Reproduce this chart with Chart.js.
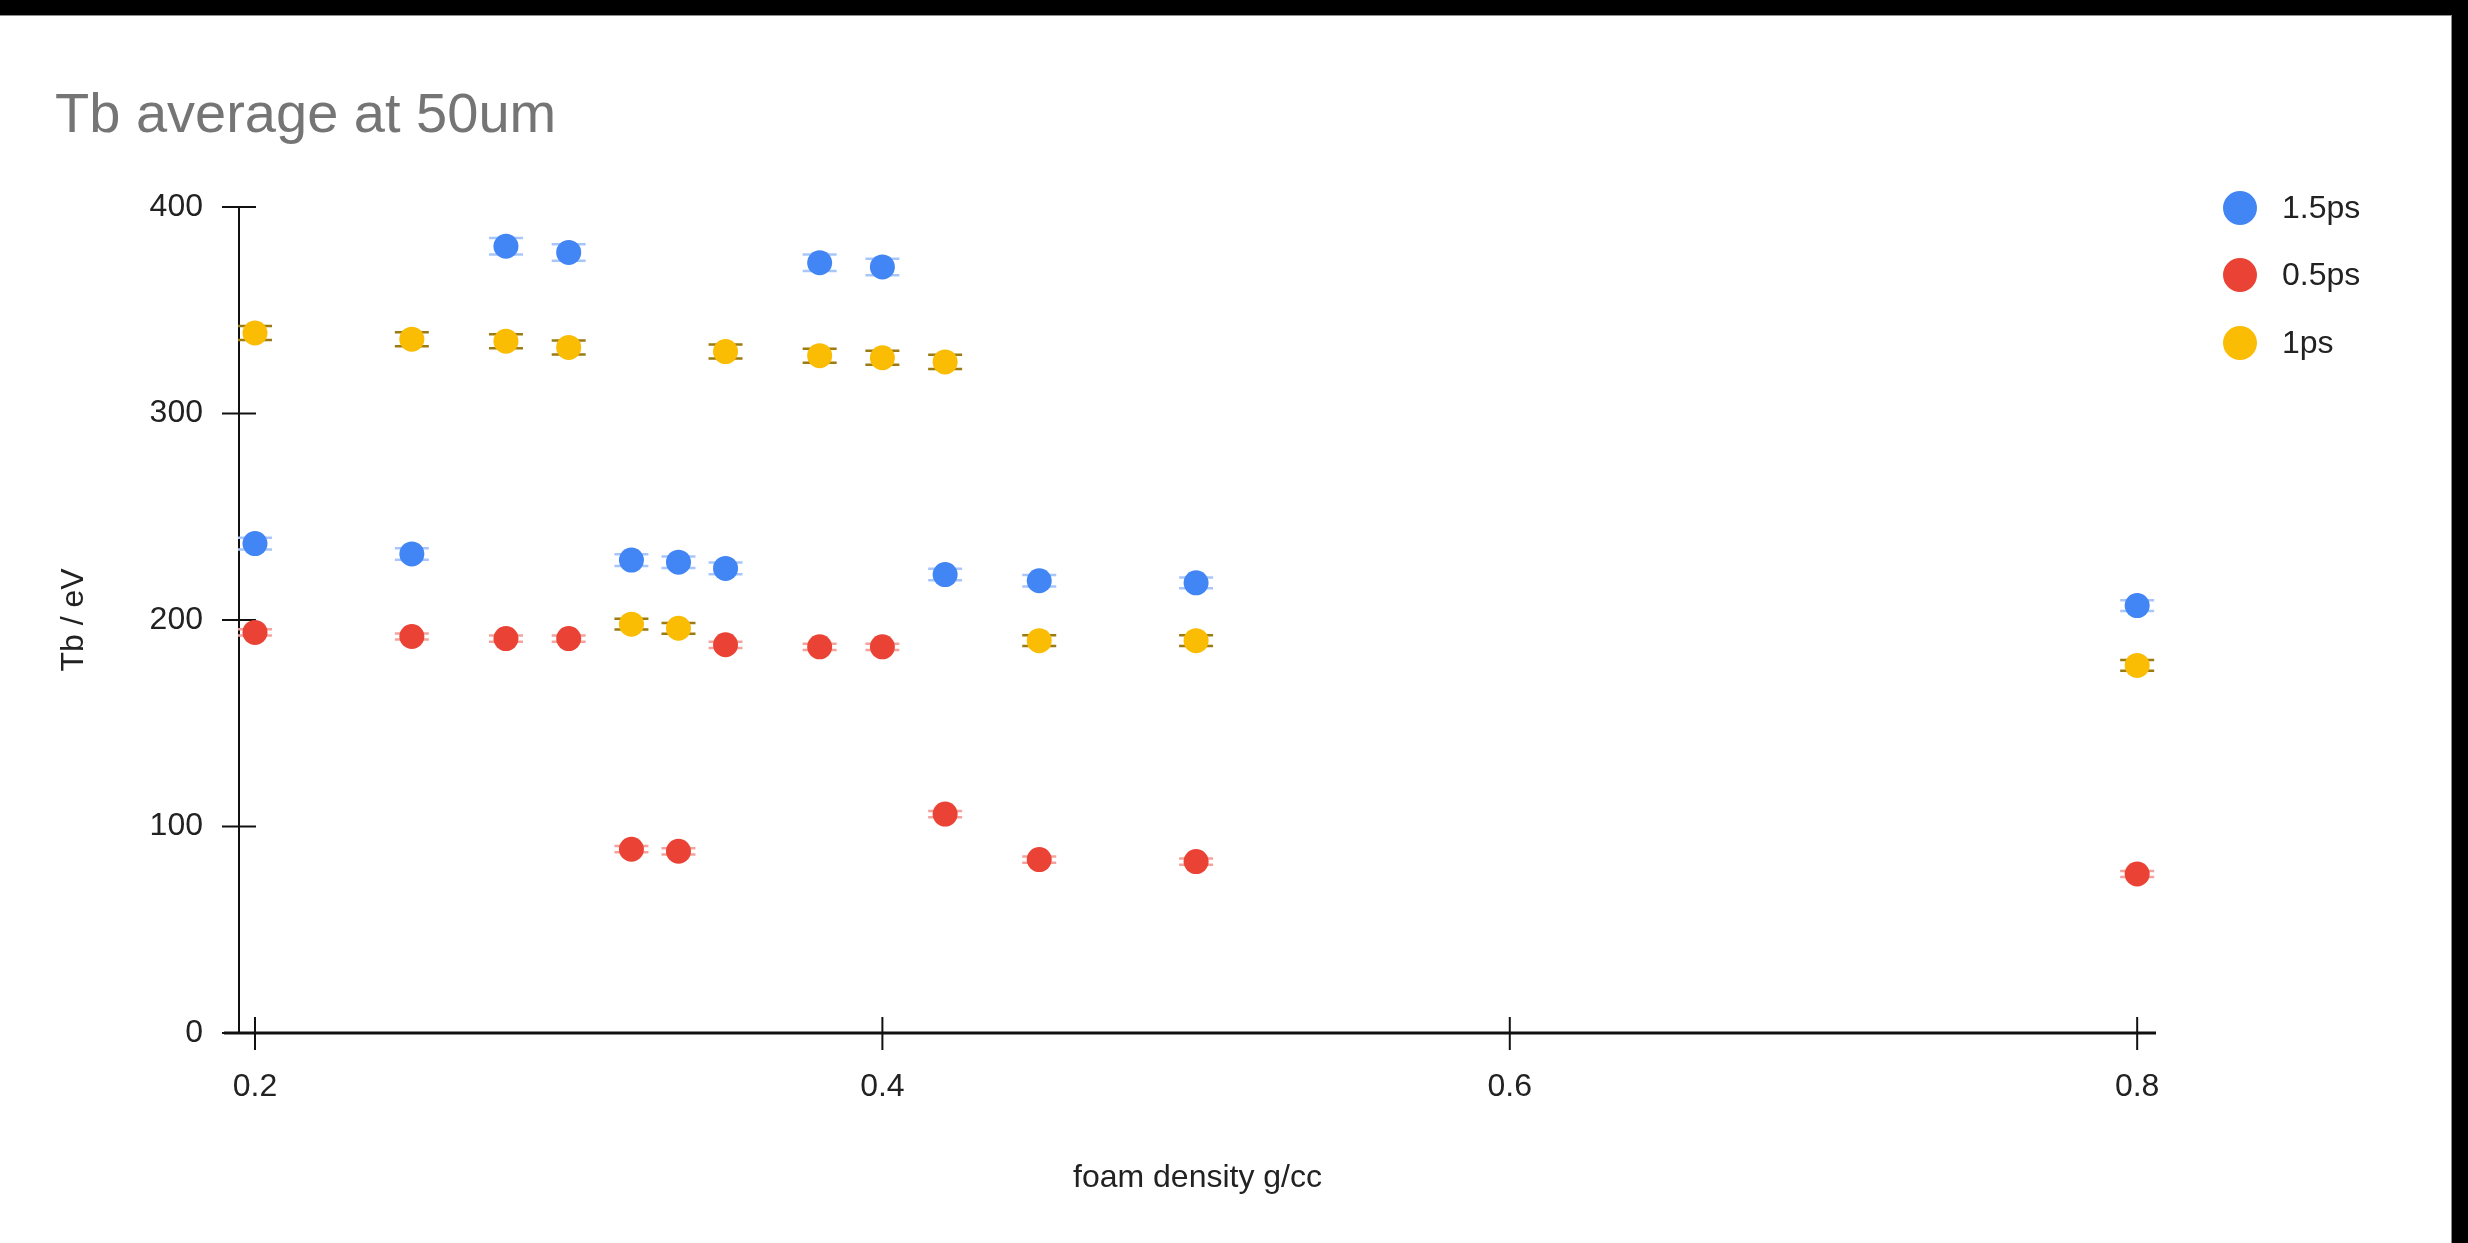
<!DOCTYPE html>
<html>
<head>
<meta charset="utf-8">
<script src="https://cdn.jsdelivr.net/npm/chart.js@4.4.1/dist/chart.umd.min.js"></script>
<style>
html, body { margin: 0; padding: 0; background: #000; width: 2468px; height: 1243px; overflow: hidden; }
#frame { position: absolute; left: 0; top: 15px; width: 2452px; height: 1228px; box-sizing: border-box;
         background: #fff; border-top: 1px solid #8c8c8c; border-right: 1px solid #8c8c8c; }
#chart { display: block; }
</style>
</head>
<body>
<div id="frame"><canvas id="chart" width="2451" height="1227"></canvas></div>
<script>
var FONT = "'Liberation Sans', Arial, sans-serif";

// foam density (g/cc) shared by all three pulse lengths
var densities = [0.2, 0.25, 0.28, 0.30, 0.32, 0.335, 0.35, 0.38, 0.40, 0.42, 0.45, 0.50, 0.80];
var seriesNames = ['1.5ps', '0.5ps', '1ps'];

// Tb (eV) per series
var tb15 = [237, 232, 381, 378, 229, 228, 225, 373, 371, 222, 219, 218, 207];
var tb05 = [194, 192, 191, 191, 89, 88, 188, 187, 187, 106, 84, 83, 77];
var tb1 = [339, 336, 335, 332, 198, 196, 330, 328, 327, 325, 190, 190, 178];

// error bar half-heights (eV)
var err15 = [2.8, 2.8, 4, 4, 2.8, 2.8, 2.8, 4, 4, 2.8, 2.8, 2.6, 2.6];
var err05 = [1.5, 1.5, 1.5, 1.5, 1.5, 1.5, 1.5, 1.5, 1.5, 1.5, 1.5, 1.5, 1.5];
var err1 = [3.4, 3.4, 3.4, 3.4, 2.6, 2.6, 3.4, 3.4, 3.4, 3.4, 2.6, 2.6, 2.6];

var xTicks = [0.2, 0.4, 0.6, 0.8];
var yTicks = [0, 100, 200, 300, 400];

var colors = ['#4285f4', '#ea4335', '#fbbc04'];
var capColors = ['#a9c6fb', '#f4a39c', '#9b7b12'];
var seriesValues = [tb15, tb05, tb1];
var seriesErrors = [err15, err05, err1];

function toPoints(values) {
    return densities.map(function (d, i) { return { x: d, y: values[i] }; });
}

var decor = {
    id: 'decor',
    beforeDatasetsDraw: function (chart) {
        var ctx = chart.ctx;
        var xs = chart.scales.x, ys = chart.scales.y;
        var area = chart.chartArea;
        var y0 = ys.getPixelForValue(0);
        ctx.save();
        ctx.strokeStyle = '#111';
        ctx.lineWidth = 2;
        // y axis + crossing ticks
        ctx.beginPath();
        ctx.moveTo(area.left, ys.getPixelForValue(400));
        ctx.lineTo(area.left, y0);
        yTicks.forEach(function (v) {
            var p = ys.getPixelForValue(v);
            ctx.moveTo(area.left - 17, p);
            ctx.lineTo(area.left + 17, p);
        });
        xTicks.forEach(function (v) {
            var p = xs.getPixelForValue(v);
            ctx.moveTo(p, y0 - 16);
            ctx.lineTo(p, y0 + 17);
        });
        ctx.stroke();
        ctx.lineWidth = 3;
        ctx.beginPath();
        ctx.moveTo(area.left - 15, y0);
        ctx.lineTo(area.right, y0);
        ctx.stroke();

        // error bars (caps peek out from behind the markers)
        ctx.lineWidth = 2.5;
        chart.data.datasets.forEach(function (ds, di) {
            var errs = seriesErrors[di];
            ctx.strokeStyle = capColors[di];
            ctx.beginPath();
            ds.data.forEach(function (pt, i) {
                var px = xs.getPixelForValue(pt.x);
                var top = ys.getPixelForValue(pt.y + errs[i]);
                var bot = ys.getPixelForValue(pt.y - errs[i]);
                ctx.moveTo(px - 17, top); ctx.lineTo(px + 17, top);
                ctx.moveTo(px - 17, bot); ctx.lineTo(px + 17, bot);
                ctx.moveTo(px, top); ctx.lineTo(px, bot);
            });
            ctx.stroke();
        });
        ctx.restore();
    },
    afterDraw: function (chart) {
        var ctx = chart.ctx;
        ctx.save();
        // title
        ctx.fillStyle = '#757575';
        ctx.font = '56px ' + FONT;
        ctx.textBaseline = 'alphabetic';
        ctx.textAlign = 'left';
        ctx.fillText('Tb average at 50um', 55, 116);

        // legend
        var rows = [192, 259, 327];
        ctx.font = '32px ' + FONT;
        ctx.textBaseline = 'middle';
        seriesNames.forEach(function (name, i) {
            ctx.fillStyle = colors[i];
            ctx.beginPath();
            ctx.arc(2240, rows[i], 17, 0, Math.PI * 2);
            ctx.fill();
            ctx.fillStyle = '#222';
            ctx.fillText(name, 2282, rows[i] + 1);
        });
        ctx.restore();
    }
};

var chart = new Chart(document.getElementById('chart').getContext('2d'), {
    type: 'scatter',
    data: {
        datasets: seriesNames.map(function (name, i) {
            return {
                label: name,
                data: toPoints(seriesValues[i]),
                backgroundColor: colors[i],
                borderColor: colors[i],
                borderWidth: 0,
                pointRadius: 12.5,
                pointHoverRadius: 12.5
            };
        })
    },
    options: {
        responsive: false,
        animation: false,
        events: [],
        layout: { padding: { left: 20, right: 295, top: 191, bottom: 0 } },
        plugins: {
            legend: { display: false },
            title: { display: false },
            tooltip: { enabled: false }
        },
        scales: {
            x: {
                type: 'linear',
                min: 0.1949,
                max: 0.806,
                afterBuildTicks: function (s) { s.ticks = xTicks.map(function (v) { return { value: v }; }); },
                afterFit: function (s) { s.height = 210; },
                ticks: {
                    padding: 35,
                    color: '#222',
                    font: { family: FONT, size: 32 },
                    maxRotation: 0,
                    callback: function (v) { return String(v); }
                },
                grid: { display: false, drawTicks: false },
                border: { display: false },
                title: {
                    display: true,
                    text: 'foam density g/cc',
                    color: '#222',
                    font: { family: FONT, size: 32 },
                    padding: { top: 0, bottom: 46 }
                }
            },
            y: {
                type: 'linear',
                min: 0,
                max: 400,
                afterBuildTicks: function (s) { s.ticks = yTicks.map(function (v) { return { value: v }; }); },
                afterFit: function (s) { s.width = 219; },
                ticks: {
                    padding: 36,
                    color: '#222',
                    font: { family: FONT, size: 32 },
                    callback: function (v) { return String(v); }
                },
                grid: { display: false, drawTicks: false },
                border: { display: false },
                title: {
                    display: true,
                    text: 'Tb / eV',
                    color: '#222',
                    font: { family: FONT, size: 32 },
                    padding: { top: 35, bottom: 0 }
                }
            }
        }
    },
    plugins: [decor]
});
</script>
</body>
</html>
